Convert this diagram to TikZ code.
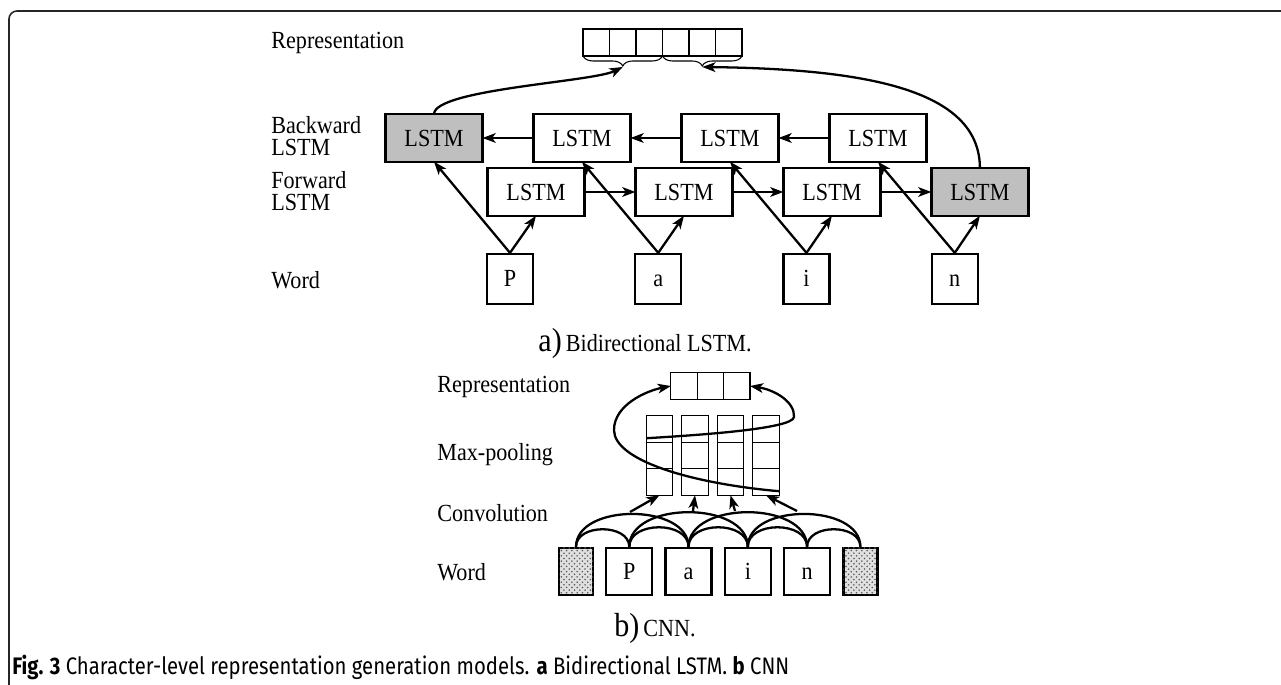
\documentclass[tikz,border=0pt]{standalone}
\usepackage{fontspec}
\setmainfont{Liberation Serif}[FakeStretch=0.9]
\newfontfamily\capfont{Fira Sans}[FakeStretch=0.85]
\usetikzlibrary{positioning,calc,arrows.meta,decorations.pathreplacing,patterns}
\tikzset{lstm/.style={rectangle,draw,line width=1.3pt,minimum width=1.94cm,minimum height=0.95cm,inner sep=0pt,outer sep=0pt},
	 glstm/.style={lstm,fill=black!25},
	 chr/.style={rectangle,draw,line width=1.3pt,minimum width=0.92cm,minimum height=1cm,inner sep=0pt,text height=9pt,text depth=0pt},
	 chrb/.style={chr,minimum height=0.94cm},
	 pad/.style={chrb,minimum width=0.68cm,fill=black!12,postaction={pattern=crosshatch dots,pattern color=black!65}},
	 cell/.style={rectangle,draw,line width=0.6pt,minimum width=0.53cm,minimum height=0.53cm,inner sep=0pt,outer sep=0pt},
	 lab/.style={anchor=west,align=left,inner sep=0pt},
	 arr/.style={-{Stealth[length=7.5pt,width=5.5pt,inset=2pt]},line width=1.3pt},
	 arc/.style={line width=1.3pt},
	 brc/.style={decorate,decoration={brace,mirror,amplitude=0.2cm},line width=0.6pt},
	 frm/.style={rounded corners=0.16cm,line width=0.9pt,draw=black!85},
	 node distance = 1.02cm
	 }

\begin{document}
\begin{tikzpicture}[x=0.02cm,y=0.02cm,font=\fontsize{14}{12.5}\selectfont] % char-level models
	\useasboundingbox (0,0) rectangle (1281,685);
	\draw[frm] (9,-20) -- (9,674) -- (1300,674);
	% a) bidirectional LSTM
	\node[lab] (lrep) at (271,642) {Representation};
	\node[lab] (lbw) at (271,549) {Backward\\LSTM};
	\node[lab] (lfw) at (271,494) {Forward\\LSTM};
	\node[lab] (lwd) at (271,405) {Word};
	\foreach \i in {1,...,6} \node[cell,minimum height=0.54cm] (ra\i) at ({569.75+26.5*\i},642.5) {};
	\draw[brc] (ra1.south west) -- (ra3.south east);
	\draw[brc] (ra4.south west) -- (ra6.south east);
	\coordinate (tipa) at ($(ra2.south)+(0,-11)$);
	\coordinate (tipb) at ($(ra5.south)+(0,-11)$);
	\node[glstm] (bw1) at (434,547) {LSTM};
	\node[lstm] (bw2) [right= of bw1] {LSTM};
	\node[lstm] (bw3) [right= of bw2] {LSTM};
	\node[lstm] (bw4) [right= of bw3] {LSTM};
	\node[lstm] (fw1) at (536,493) {LSTM};
	\node[lstm] (fw2) [right= of fw1] {LSTM};
	\node[lstm] (fw3) [right= of fw2] {LSTM};
	\node[glstm] (fw4) [right= of fw3] {LSTM};
	\node[chr] (w1) at (510,406) {P};
	\node[chr] (w2) [right=2cm of w1] {a};
	\node[chr] (w3) [right=2cm of w2] {i};
	\node[chr] (w4) [right=2cm of w3] {n};
	\draw[arr] (bw4) -- (bw3); \draw[arr] (bw3) -- (bw2); \draw[arr] (bw2) -- (bw1);
	\draw[arr] (fw1) -- (fw2); \draw[arr] (fw2) -- (fw3); \draw[arr] (fw3) -- (fw4);
	\foreach \i in {1,...,4} {
		\draw[arr] (w\i.north) -- (fw\i.south);
		\draw[arr] (w\i.north) -- (bw\i.south);
	}
	\draw[arr] (bw1.north) .. controls +(0,25) and +(-30,-15) .. (tipa);
	\draw[arr] (fw4.north) .. controls +(0,80) and +(160,-2) .. (tipb);
	\node (capa) at (645,342) {{\fontsize{19}{19}\selectfont a)}\,Bidirectional LSTM.};
	% b) CNN
	\node[lab] (lrepb) at (437,298) {Representation};
	\node[lab] (lmax) at (437,230) {Max-pooling};
	\node[lab] (lconv) at (437,172) {Convolution};
	\node[lab] (lwdb) at (437,113) {Word};
	\foreach \i in {1,2,3} \node[cell] (rb\i) at ({657.85+26.3*\i},299) {};
	\foreach \c in {1,...,4} \foreach \r in {1,2,3}
		\node[cell] (m\c\r) at ({624+35.5*\c},{282.5-26.5*\r}) {};
	\node[pad] (p1) at (576,113.5) {};
	\node[chrb] (c1) [right=0.22cm of p1] {P};
	\node[chrb] (c2) [right=0.22cm of c1] {a};
	\node[chrb] (c3) [right=0.22cm of c2] {i};
	\node[chrb] (c4) [right=0.22cm of c3] {n};
	\node[pad] (p2) [right=0.22cm of c4] {};
	\foreach \a/\b in {p1/c1,c1/c2,c2/c3,c3/c4,c4/p2}
		\draw[arc] (\a.north) to[out=90,in=90,looseness=1.13] (\b.north);
	\foreach \a/\b in {p1/c2,c1/c3,c2/c4,c3/p2}
		\draw[arc] (\a.north) to[out=90,in=90,looseness=1] (\b.north);
	\coordinate (k1) at (630,173); \coordinate (k2) at (693,174);
	\coordinate (k3) at (735,174); \coordinate (k4) at (797,174);
	\foreach \i in {1,...,4} \draw[arr] (k\i) -- (m\i3.south);
	\coordinate (mxa) at ($(m11.south west)+(0,4)$);
	\coordinate (lpr) at (794,268);
	\draw[arr] (mxa) .. controls +(50,3) and +(-1,-12) .. (lpr) .. controls +(1,15) and +(25,-4) .. (rb3.east);
	\coordinate (mxb) at ($(m43.south east)+(0,4)$);
	\coordinate (lpl) at (614,255);
	\draw[arr] (mxb) .. controls +(-90,8) and +(0,-30) .. (lpl) .. controls +(0,25) and +(-25,-5) .. (rb1.west);
	\node (capb) at (655,57) {{\fontsize{19}{19}\selectfont b)}\,CNN.};
	\node[anchor=west,inner sep=0pt,font=\capfont\fontsize{13.6}{15}\selectfont] (figcap) at (12,18)
		{\textbf{Fig. 3} Character-level representation generation models. \textbf{a} Bidirectional LSTM. \textbf{b} CNN};
\end{tikzpicture}
\end{document}
